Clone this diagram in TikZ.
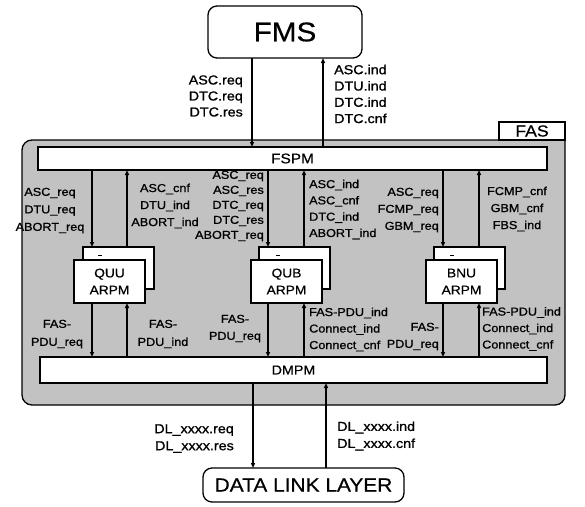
\documentclass[tikz,border=0pt]{standalone}
\usepackage{fontspec}
\setmainfont{Liberation Sans}[FakeStretch=1.1,FakeBold=0.6]
\newfontfamily\lblfont{Liberation Sans}[FakeStretch=1.1,FakeBold=1.0]
\usetikzlibrary{arrows.meta}
\definecolor{fasgray}{gray}{0.76}
\begin{document}
\begin{tikzpicture}[x=1pt,y=-1pt,
  box/.style={draw, line width=1.3pt, fill=white, inner sep=0pt, outer sep=0pt},
  rbox/.style={box, rounded corners=9pt},
  arr/.style={line width=1.2pt, -{Triangle[length=5pt,width=4pt]}},
  inl/.style={inner sep=0pt, align=center},
  lsp/.style={font=\lblfont\fontsize{11.5}{#1}\selectfont},
  osp/.style={font=\lblfont\fontsize{13}{#1}\selectfont},
  tick/.style={line width=0.9pt}]
\useasboundingbox (0,0) rectangle (585,506);
\fill[white] (0,0) rectangle (585,506);

% FAS region
\draw[line width=1.3pt, fill=fasgray, rounded corners=10pt]
  (565,140) -- (22,140) -- (22,405) -- (565,405) -- (565,140);
\node[box, minimum width=66pt, minimum height=18pt, font=\fontsize{16}{18}\selectfont] (fastab) at (532,131) {FAS};

% main boxes
\node[rbox, minimum width=154pt, minimum height=52pt, font=\fontsize{27}{30}\selectfont] (fms) at (285,32) {FMS};
\node[box, minimum width=509pt, minimum height=23pt, font=\fontsize{14}{16}\selectfont] (fspm) at (292.5,158.5) {FSPM};
\node[box, minimum width=507pt, minimum height=26pt, font=\fontsize{13}{15}\selectfont] (dmpm) at (293.5,370) {DMPM};
\node[rbox, minimum width=201pt, minimum height=34pt, font=\fontsize{19}{21}\selectfont] (dll) at (303.5,485) {DATA LINK LAYER};

% ARPM boxes
\node[box, minimum width=71pt, minimum height=42pt] (quub) at (118.5,268) {};
\node[box, minimum width=71pt, minimum height=42pt] (qubb) at (294.5,268) {};
\node[box, minimum width=71pt, minimum height=42pt] (bnub) at (469.5,268) {};
\draw[tick] (98,255) -- (102,255);
\draw[tick] (276,255) -- (280,255);
\draw[tick] (450,255) -- (454,255);
\node[box, minimum width=71pt, minimum height=43pt, align=center, font=\fontsize{12.5}{17}\selectfont] (quuf) at (109.5,281.5) {QUU\\ARPM};
\node[box, minimum width=71pt, minimum height=43pt, align=center, font=\fontsize{12.5}{17}\selectfont] (qubf) at (286.5,281.5) {QUB\\ARPM};
\node[box, minimum width=71pt, minimum height=43pt, align=center, font=\fontsize{12.5}{17}\selectfont] (bnuf) at (461.5,281.5) {BNU\\ARPM};

% arrow x positions
\coordinate (xt1) at (252,0);
\coordinate (xt2) at (323,0);
\coordinate (xb1) at (253,0);
\coordinate (xb2) at (326,0);
\coordinate (x1) at (92,0);
\coordinate (x2) at (127,0);
\coordinate (x3) at (268,0);
\coordinate (x4) at (304,0);
\coordinate (x5) at (443,0);
\coordinate (x6) at (479,0);

% FMS <-> FSPM
\draw[arr] (fms.south -| xt1) -- (fspm.north -| xt1);
\draw[arr] (fspm.north -| xt2) -- (fms.south -| xt2);
% DMPM <-> DLL
\draw[arr] (dmpm.south -| xb1) -- (dll.north -| xb1);
\draw[arr] (dll.north -| xb2) -- (dmpm.south -| xb2);

% QUU
\draw[arr] (fspm.south -| x1) -- (quub.north -| x1);
\draw[arr] (quub.north -| x2) -- (fspm.south -| x2);
\draw[arr] (quuf.south -| x1) -- (dmpm.north -| x1);
\draw[arr] (dmpm.north -| x2) -- (quuf.south -| x2);
% QUB
\draw[arr] (fspm.south -| x3) -- (qubb.north -| x3);
\draw[arr] (qubb.north -| x4) -- (fspm.south -| x4);
\draw[arr] (qubf.south -| x3) -- (dmpm.north -| x3);
\draw[arr] (dmpm.north -| x4) -- (qubf.south -| x4);
% BNU
\draw[arr] (fspm.south -| x5) -- (bnub.north -| x5);
\draw[arr] (bnub.north -| x6) -- (fspm.south -| x6);
\draw[arr] (bnuf.south -| x5) -- (dmpm.north -| x5);
\draw[arr] (dmpm.north -| x6) -- (bnuf.south -| x6);

% outer labels
\node[inl, osp=16, align=right, anchor=east] (fmsL) at (243,96) {ASC.req\\DTC.req\\DTC.res};
\node[inl, osp=16.3, align=left, anchor=west] (fmsR) at (334,94) {ASC.ind\\DTU.ind\\DTC.ind\\DTC.cnf};
\node[inl, osp=17, align=right, anchor=east] (dlL) at (234,438.5) {DL\_xxxx.req\\DL\_xxxx.res};
\node[inl, osp=17, align=left, anchor=west] (dlR) at (337,436) {DL\_xxxx.ind\\DL\_xxxx.cnf};

% inner upper labels
\node[inl, lsp=17.5] (quuUL) at (50,210.5) {ASC\_req\\DTU\_req\\ABORT\_req};
\node[inl, lsp=17] (quuUR) at (165,206) {ASC\_cnf\\DTU\_ind\\ABORT\_ind};
\node[inl, lsp=15, align=right, anchor=east] (qubUL) at (264,206) {ASC\_req\\ASC\_res\\DTC\_req\\DTC\_res\\ABORT\_req};
\node[inl, lsp=16.3, align=left, anchor=west] (qubUR) at (309,209.5) {ASC\_ind\\ASC\_cnf\\DTC\_ind\\ABORT\_ind};
\node[inl, lsp=17, align=right, anchor=east] (bnuUL) at (439,210) {ASC\_req\\FCMP\_req\\GBM\_req};
\node[inl, lsp=17] (bnuUR) at (517,209) {FCMP\_cnf\\GBM\_cnf\\FBS\_ind};

% inner lower labels
\node[inl, lsp=18] (quuDL) at (57,334) {FAS-\\PDU\_req};
\node[inl, lsp=18] (quuDR) at (163,334) {FAS-\\PDU\_ind};
\node[inl, lsp=17] (qubDL) at (235,328.5) {FAS-\\PDU\_req};
\node[inl, lsp=16.5, align=left, anchor=west] (qubDR) at (309,329.5) {FAS-PDU\_ind\\Connect\_ind\\Connect\_cnf};
\node[inl, lsp=17, align=right, anchor=east] (bnuDL) at (439,336.5) {FAS-\\PDU\_req};
\node[inl, lsp=16.5, align=left, anchor=west] (bnuDR) at (482,329) {FAS-PDU\_ind\\Connect\_ind\\Connect\_cnf};
\end{tikzpicture}
\end{document}
